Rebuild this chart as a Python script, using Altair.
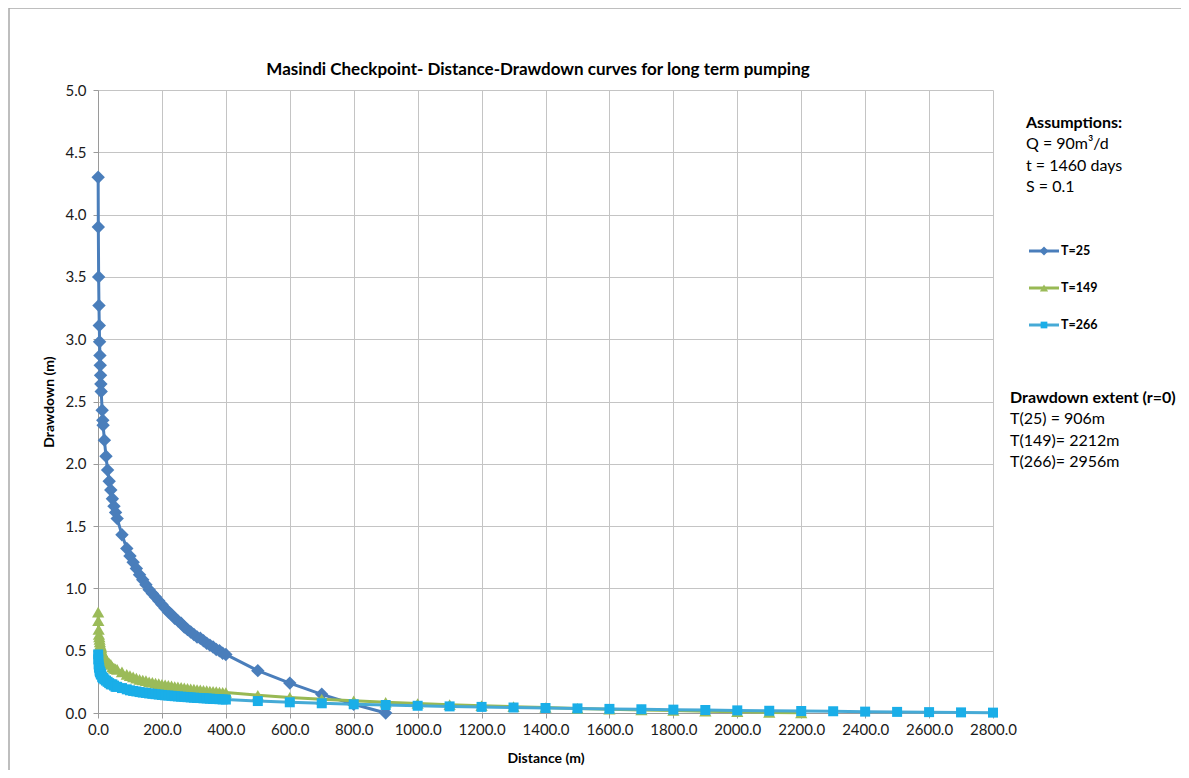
import altair as alt
import pandas as pd

# ---------------- data ----------------
distance = [0.5, 1, 2, 3, 4, 5, 6, 7, 8, 9, 10,
            13, 15, 16, 20, 25, 30, 35, 40, 45, 50, 55, 60,
            75, 90,
            100, 110, 120, 130, 140, 150, 160, 170, 180, 190,
            200, 210, 220, 230, 240, 250, 260, 270, 280, 290,
            300, 310, 320, 330, 340, 350, 360, 370, 380, 390,
            400,
            500, 600, 700, 800, 900, 1000, 1100, 1200, 1300, 1400,
            1500, 1600, 1700, 1800, 1900, 2000, 2100, 2200, 2300, 2400,
            2500, 2600, 2700, 2800]

drawdown_T25 = [4.30, 3.90, 3.50, 3.27, 3.11, 2.98, 2.87, 2.79, 2.71, 2.64, 2.58,
                2.43, 2.35, 2.31, 2.19, 2.06, 1.95, 1.86, 1.79, 1.72, 1.66, 1.61, 1.56,
                1.43, 1.32,
                1.26, 1.21, 1.16, 1.11, 1.07, 1.03, 0.99, 0.96, 0.93, 0.90,
                0.87, 0.84, 0.81, 0.79, 0.76, 0.74, 0.72, 0.69, 0.67, 0.65,
                0.63, 0.61, 0.60, 0.58, 0.56, 0.545, 0.53, 0.51, 0.50, 0.48,
                0.47,
                0.34, 0.24, 0.15, 0.07, 0.00]

drawdown_T149 = [0.81, 0.74, 0.67, 0.63, 0.61, 0.59, 0.57, 0.55, 0.54, 0.53, 0.52,
                 0.49, 0.48, 0.47, 0.45, 0.43, 0.41, 0.40, 0.39, 0.37, 0.36, 0.355, 0.35,
                 0.33, 0.31,
                 0.30, 0.29, 0.28, 0.27, 0.265, 0.26, 0.25, 0.247, 0.24, 0.236,
                 0.23, 0.226, 0.222, 0.218, 0.213, 0.21, 0.206, 0.202, 0.199, 0.195,
                 0.192, 0.189, 0.186, 0.183, 0.18, 0.177, 0.175, 0.172, 0.169, 0.167,
                 0.164,
                 0.143, 0.125, 0.111, 0.098, 0.086, 0.076, 0.067, 0.059, 0.051, 0.044,
                 0.037, 0.031, 0.025, 0.020, 0.015, 0.010, 0.005, 0.001]

drawdown_T266 = [0.47, 0.43, 0.39, 0.37, 0.36, 0.34, 0.33, 0.33, 0.32, 0.31, 0.31,
                 0.29, 0.28, 0.28, 0.27, 0.26, 0.25, 0.24, 0.23, 0.23, 0.22, 0.21, 0.21,
                 0.20, 0.19,
                 0.182, 0.177, 0.173, 0.168, 0.164, 0.161, 0.157, 0.154, 0.151, 0.148,
                 0.145, 0.142, 0.140, 0.138, 0.135, 0.133, 0.131, 0.129, 0.127, 0.125,
                 0.123, 0.121, 0.120, 0.118, 0.117, 0.115, 0.113, 0.112, 0.111, 0.109,
                 0.108,
                 0.096, 0.086, 0.078, 0.070, 0.064, 0.058, 0.053, 0.049, 0.044, 0.040,
                 0.037, 0.033, 0.030, 0.027, 0.024, 0.021, 0.018, 0.016, 0.014, 0.011,
                 0.009, 0.007, 0.005, 0.003]

series_names = ["T=25", "T=149", "T=266"]
series_values = [drawdown_T25, drawdown_T149, drawdown_T266]
line_colors = ["#4A7EBB", "#98B954", "#46AAD6"]
marker_colors = ["#4A7EBB", "#9BBB59", "#1AAEE8"]
marker_shapes = ["diamond", "triangle-up", "square"]
marker_sizes = [180, 150, 100]

x_ticks = [0, 200, 400, 600, 800, 1000, 1200, 1400, 1600, 1800, 2000, 2200, 2400, 2600, 2800]
y_ticks = [0.0, 0.5, 1.0, 1.5, 2.0, 2.5, 3.0, 3.5, 4.0, 4.5, 5.0]

title_text = "Masindi Checkpoint- Distance-Drawdown curves for long term pumping"
assumption_lines = ["Q = 90m\u00b3/d", "t = 1460 days", "S = 0.1"]
extent_lines = ["T(25) = 906m", "T(149)= 2212m", "T(266)= 2956m"]

FONT = "Lato"
W, H = 895, 623

x_scale = alt.Scale(domain=[0, 2800], nice=False, zero=False)
y_scale = alt.Scale(domain=[0, 5], nice=False)

x_axis = alt.Axis(values=x_ticks, format=".1f", title="Distance (m)", grid=True,
                  labelFontSize=15, labelFont=FONT, labelColor="#1a1a1a",
                  titleFont=FONT, titleFontSize=14, titleFontWeight="bold", titleColor="#000",
                  tickSize=5, labelPadding=4, titlePadding=14,
                  domainColor="#9a9a9a", tickColor="#9a9a9a", gridColor="#C4C4C4",
                  labelFlush=False)
y_axis = alt.Axis(values=y_ticks, format=".1f", title="Drawdown (m)", grid=True,
                  labelFontSize=15, labelFont=FONT, labelColor="#1a1a1a",
                  titleFont=FONT, titleFontSize=14, titleFontWeight="bold", titleColor="#000",
                  tickSize=5, labelPadding=7, titlePadding=9,
                  domainColor="#9a9a9a", tickColor="#9a9a9a", gridColor="#C4C4C4",
                  labelFlush=False)

layers = []
for i, (name, vals) in enumerate(zip(series_names, series_values)):
    df = pd.DataFrame({"distance": distance[:len(vals)], "drawdown": vals, "series": name})
    base = alt.Chart(df)
    enc = dict(
        x=alt.X("distance:Q", scale=x_scale, axis=x_axis),
        y=alt.Y("drawdown:Q", scale=y_scale, axis=y_axis),
    )
    layers.append(base.mark_line(color=line_colors[i], strokeWidth=3).encode(**enc))
    layers.append(base.mark_point(shape=marker_shapes[i], filled=True, size=marker_sizes[i],
                                  color=marker_colors[i], opacity=1).encode(**enc))

one = pd.DataFrame({"a": [0]})

# outer frame (top and left edges)
frame_top = alt.Chart(one).mark_rule(color="#A8A8A8", strokeWidth=1.5).encode(
    x=alt.value(-89), x2=alt.value(1085), y=alt.value(-82))
frame_left = alt.Chart(one).mark_rule(color="#A8A8A8", strokeWidth=1.5).encode(
    x=alt.value(-89), y=alt.value(-82), y2=alt.value(700))

title = alt.Chart(one).mark_text(font=FONT, fontSize=17, fontWeight="bold", align="center",
                                 baseline="middle", color="#000").encode(
    x=alt.value(440), y=alt.value(-20), text=alt.value(title_text))

texts = [
    alt.Chart(one).mark_text(font=FONT, fontSize=16, fontWeight="bold", align="left",
                             baseline="middle", color="#000").encode(
        x=alt.value(928), y=alt.value(33), text=alt.value("Assumptions:")),
]
for k, line in enumerate(assumption_lines):
    texts.append(alt.Chart(one).mark_text(font=FONT, fontSize=16, align="left",
                                          baseline="middle", color="#000").encode(
        x=alt.value(928), y=alt.value(54 + 21.5 * k), text=alt.value(line)))
texts.append(alt.Chart(one).mark_text(font=FONT, fontSize=16, fontWeight="bold", align="left",
                                      baseline="middle", color="#000").encode(
    x=alt.value(912), y=alt.value(308), text=alt.value("Drawdown extent (r=0)")))
for k, line in enumerate(extent_lines):
    texts.append(alt.Chart(one).mark_text(font=FONT, fontSize=16, align="left",
                                          baseline="middle", color="#000").encode(
        x=alt.value(912), y=alt.value(329 + 21.5 * k), text=alt.value(line)))

# legend
legend_layers = []
for i, name in enumerate(series_names):
    yy = 161 + 37 * i
    legend_layers.append(alt.Chart(one).mark_rule(color=line_colors[i], strokeWidth=3).encode(
        x=alt.value(931), x2=alt.value(961), y=alt.value(yy)))
    legend_layers.append(alt.Chart(one).mark_point(shape=marker_shapes[i], filled=True,
                                                   size=marker_sizes[i] * 0.45, color=marker_colors[i],
                                                   opacity=1).encode(
        x=alt.value(946), y=alt.value(yy)))
    legend_layers.append(alt.Chart(one).mark_text(font=FONT, fontSize=12.5, fontWeight="bold",
                                                  align="left", baseline="middle", color="#000").encode(
        x=alt.value(963), y=alt.value(yy), text=alt.value(name)))

chart = alt.layer(frame_top, frame_left, *layers, title, *texts, *legend_layers).properties(
    width=W, height=H,
    padding={"left": 90, "top": 82, "right": 188, "bottom": 57},
    autosize=alt.AutoSizeParams(type="none"),
).configure(background="white", view=alt.ViewConfig(stroke=None))

chart.save("out.html", embed_options={"renderer": "svg", "actions": False})
